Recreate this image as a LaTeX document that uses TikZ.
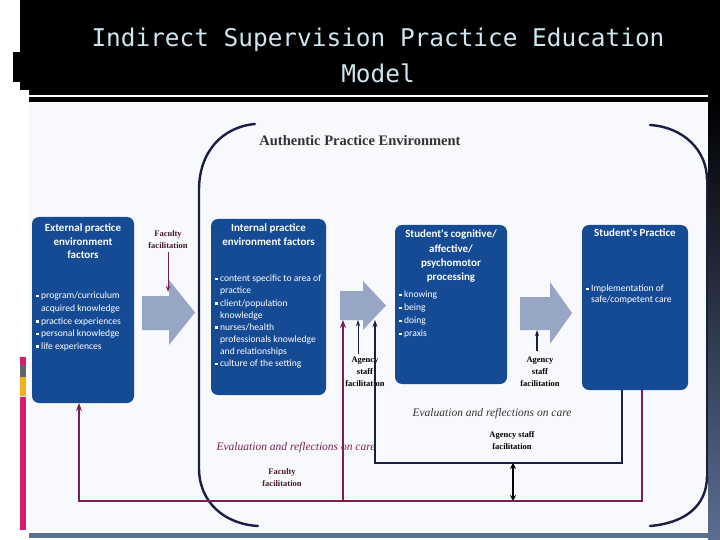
\documentclass[tikz,border=0pt]{standalone}
\usepackage{fontspec}
\setmainfont{Liberation Serif}
\newfontfamily\boxfont{Carlito}
\newfontfamily\ttlfont{DejaVu Sans Mono}
\usetikzlibrary{arrows.meta}
\definecolor{boxblue}{RGB}{21,75,148}
\definecolor{arrowgray}{RGB}{152,166,198}
\definecolor{lnmaroon}{RGB}{122,31,85}
\definecolor{navyline}{RGB}{25,30,70}
\definecolor{ttlblue}{RGB}{205,230,240}
\definecolor{diagbg}{RGB}{248,249,253}
\definecolor{slatebar}{RGB}{90,110,146}
\definecolor{magbar}{RGB}{216,27,114}
\definecolor{graybar}{RGB}{93,102,112}
\definecolor{yelbar}{RGB}{242,176,30}
\definecolor{txtdark}{RGB}{50,50,60}
\definecolor{facdark}{RGB}{70,25,45}
\newcommand\sqb{\raisebox{0.3ex}{\rule{0.55ex}{0.55ex}}\hspace{0.25em}}
\newcommand\ind{\phantom{\sqb}}
\begin{document}
\begin{tikzpicture}[x=1pt,y=-1pt,
  ttl/.style={text=ttlblue,font=\ttlfont\fontsize{24.4}{28}\selectfont,inner sep=0pt},
  bbox/.style={fill=boxblue,rounded corners=7pt,draw=none},
  btitle/.style={text=white,align=center,inner sep=0pt,font=\boxfont\bfseries\fontsize{11}{13.5}\selectfont},
  blist/.style={text=white,align=left,inner sep=0pt,font=\boxfont\fontsize{9.6}{12.6}\selectfont},
  lab/.style={align=center,inner sep=0pt,font=\bfseries\fontsize{8.5}{12}\selectfont},
  evl/.style={inner sep=0pt,font=\itshape\fontsize{11.5}{13}\selectfont},
  blockarr/.style={fill=arrowgray,draw=none},
  mline/.style={draw=lnmaroon,line width=2pt},
  kline/.style={draw=navyline,line width=1.4pt},
  brk/.style={draw=navyline,line width=2.4pt,line cap=round}
]
\useasboundingbox (0,0) rectangle (720,540);
% slide background
\fill[white] (0,0) rectangle (720,540);
\fill[black] (20,0) rectangle (720,90);
\fill[black] (29,90) rectangle (720,102);
\fill[black] (13,52) rectangle (20,82);
\fill[white] (29,95) rectangle (708,97);
\shade[top color=black,bottom color=slatebar] (708,102) rectangle (720,540);
\fill[diagbg] (29,102) rectangle (708,533);
\fill[slatebar] (29,533) rectangle (708,538);
\fill[magbar] (20,357) rectangle (26,365);
\fill[graybar] (20,365) rectangle (26,377);
\fill[yelbar] (20,377) rectangle (26,396);
\fill[magbar] (20,397) rectangle (26,530);
% title
\node[ttl] (t1) at (378,40) {Indirect Supervision Practice Education};
\node[ttl] (t2) at (378,73) {Model};
% environment heading
\node[inner sep=0pt,text=txtdark,font=\bfseries\fontsize{14.5}{16}\selectfont] (env) at (360,141) {Authentic Practice Environment};
% brackets
\draw[brk] (255,124) .. controls (222,127) and (199,152) .. (199,190) -- (199,468) .. controls (199,502) and (224,524) .. (258,526);
\draw[brk] (650,125) .. controls (683,127) and (707,150) .. (707,180);
\draw[navyline,line width=1.3pt] (707,178) -- (707,478);
\draw[brk] (707,476) .. controls (707,506) and (685,523) .. (650,526);
% boxes
\node[bbox,minimum width=102pt,minimum height=186pt] (b1) at (83,310) {};
\node[bbox,minimum width=115pt,minimum height=176pt] (b2) at (268.5,307) {};
\node[bbox,minimum width=112pt,minimum height=159pt] (b3) at (451,304.5) {};
\node[bbox,minimum width=106pt,minimum height=165pt] (b4) at (635,307.5) {};
% box texts
\node[btitle,anchor=north] (b1t) at (83,224) {External practice\\environment\\factors};
\node[blist,anchor=north west] (b1l) at (36,292) {\sqb program/curriculum\\\ind acquired knowledge\\\sqb practice experiences\\\sqb personal knowledge\\\sqb life experiences};
\node[btitle,anchor=north] (b2t) at (268.5,224) {Internal practice\\environment factors};
\node[blist,anchor=north west,font=\boxfont\fontsize{9.6}{12.1}\selectfont] (b2l) at (215,275) {\sqb content specific to area of\\\ind practice\\\sqb client/population\\\ind knowledge\\\sqb nurses/health\\\ind professionals knowledge\\\ind and relationships\\\sqb culture of the setting};
\node[btitle,anchor=north,font=\boxfont\bfseries\fontsize{11}{14.2}\selectfont] (b3t) at (451,230) {Student's cognitive/\\affective/\\psychomotor\\processing};
\node[blist,anchor=north west,font=\boxfont\fontsize{9.6}{13}\selectfont] (b3l) at (399,291) {\sqb knowing\\\sqb being\\\sqb doing\\\sqb praxis};
\node[btitle,anchor=north] (b4t) at (635,229) {Student's Practice};
\node[blist,anchor=north west,font=\boxfont\fontsize{9.6}{11}\selectfont] (b4l) at (586,285) {\sqb Implementation of\\\ind safe/competent care};
% block arrows
\fill[blockarr] (142,296) -- (169,296) -- (169,280) -- (195,312.5) -- (169,345) -- (169,330) -- (142,330) -- cycle;
\fill[blockarr] (340,291) -- (363,291) -- (363,281) -- (386,305.5) -- (363,330) -- (363,320) -- (340,320) -- cycle;
\fill[blockarr] (520,297) -- (550,297) -- (550,282) -- (572,313) -- (550,344) -- (550,330) -- (520,330) -- cycle;
\coordinate (a1top) at (168,292);
\coordinate (a2bot1) at (343,320);
\coordinate (a2bot2) at (358,320);
\coordinate (a2bot3) at (375,320);
\coordinate (a3bot) at (537,330);
% faculty facilitation (top)
\node[lab,text=facdark] (fac1) at (168,240) {Faculty\\facilitation};
\draw[draw=lnmaroon,line width=1pt,-{Stealth[length=6pt,width=4pt]}] (fac1.south) ++(0,3) -- (a1top);
% agency labels
\node[lab,text=black] (ag1) at (365,372) {Agency\\staff\\facilitation};
\coordinate (ag1a) at (358,354);
\draw[navyline,line width=1pt,-{Stealth[length=6pt,width=4pt]}] (ag1a) -- (a2bot2);
\node[lab,text=black] (ag2) at (540,372) {Agency\\staff\\facilitation};
\coordinate (ag2a) at (537,351);
\draw[navyline,line width=1.2pt,-{Stealth[length=6pt,width=4pt]}] (ag2a) -- (a3bot);
% feedback loops
\coordinate (m4) at (642,390);
\coordinate (m4b) at (642,501);
\coordinate (mjoin) at (343,501);
\coordinate (m1b) at (79,501);
\coordinate (m1) at (79,403);
\draw[mline,-{Stealth[length=8pt,width=6pt]}] (m4) -- (m4b) -- (m1b) -- (m1);
\draw[mline,-{Stealth[length=8pt,width=6pt]}] (mjoin) -- (a2bot1);
% evaluation texts
\node[evl,text=lnmaroon] (ev2) at (296,448) {Evaluation and reflections on care};
\coordinate (k4) at (622,390);
\coordinate (k4b) at (622,463);
\coordinate (k2b) at (375,463);
\draw[kline,-{Stealth[length=7pt,width=5pt]}] (k4) -- (k4b) -- (k2b) -- (a2bot3);
\coordinate (d1) at (513,463);
\coordinate (d2) at (513,501);
\draw[draw=black,line width=2.2pt,{Stealth[length=6pt,width=6pt]}-{Stealth[length=6pt,width=6pt]}] (d1) -- (d2);
\node[evl,text=txtdark] (ev1) at (492,414) {Evaluation and reflections on care};
\node[lab,text=black] (ag3) at (512,441) {Agency staff\\facilitation};
\node[lab,text=facdark] (fac2) at (282,478) {Faculty\\facilitation};
\end{tikzpicture}
\end{document}
